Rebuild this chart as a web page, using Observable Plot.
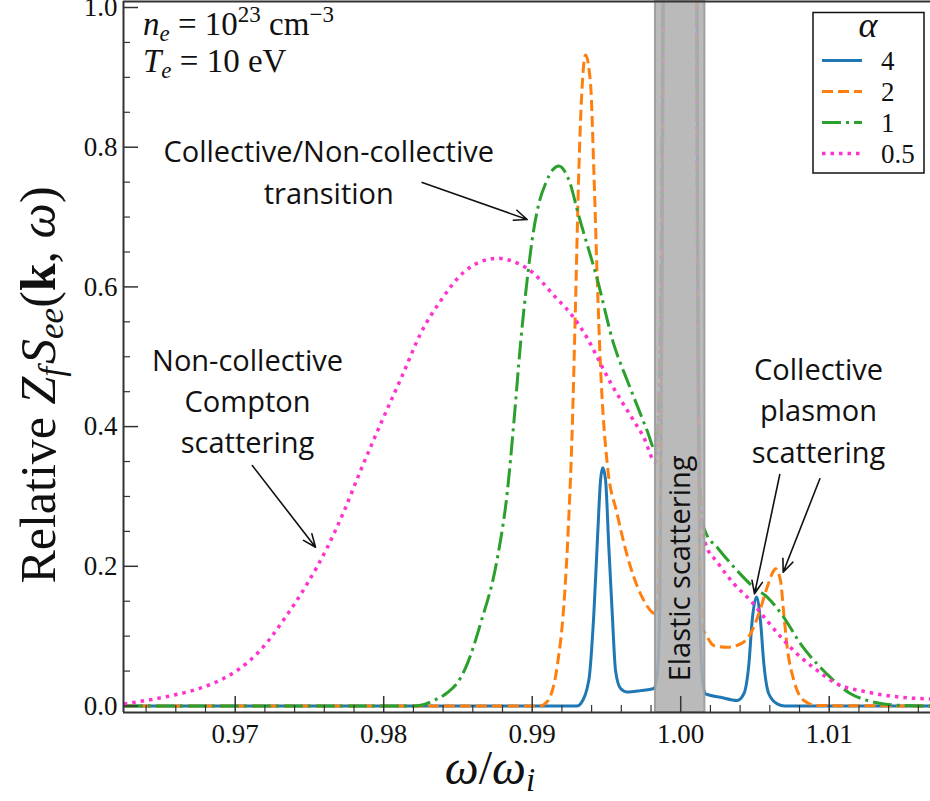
<!DOCTYPE html>
<html>
<head>
<meta charset="utf-8">
<script src="https://cdn.jsdelivr.net/npm/d3@7"></script>
<script src="https://cdn.jsdelivr.net/npm/@observablehq/plot@0.6"></script>
<style>
  html, body { margin: 0; padding: 0; background: #fff; }
  #chart svg { display: block; }
</style>
</head>
<body>
<div id="chart"></div>
<script>
// ---------------- data ----------------
const seriesNames = ["4", "2", "1", "0.5"];
const seriesColors = ["#1f77b4", "#ff7f0e", "#2ca02c", "#ff33cc"];
const seriesDash = [null, "11,5", "19,5,3,5", "3.5,5"];

// alpha = 4 (blue, solid)
const a4X = [0.9625, 0.9930, 0.99325, 0.99381, 0.99415, 0.99442, 0.9946, 0.99475, 0.99494, 0.99516, 0.99539, 0.99561, 0.99595, 0.9964, 0.99729, 0.99819,
  0.9984, 0.9986, 0.99875, 0.9989, 0.9992, 1.0008, 1.00105, 1.00115, 1.0013, 1.0015,
  1.00167, 1.00268, 1.0038, 1.00425, 1.00459, 1.00481, 1.0051, 1.00537, 1.0056, 1.00593, 1.0065, 1.0070, 1.0170];
const a4Y = [0, 0, 0.003, 0.0365, 0.132, 0.251, 0.323, 0.341, 0.323, 0.227, 0.132, 0.051, 0.025, 0.020, 0.022, 0.025,
  0.04, 0.15, 0.6, 1.5, 5, 5, 1.5, 0.6, 0.12, 0.03,
  0.0175, 0.0126, 0.0079, 0.0175, 0.060, 0.122, 0.156, 0.122, 0.060, 0.0175, 0.003, 0, 0];

// alpha = 2 (orange, dashed)
const a2X = [0.9625, 0.9905, 0.99101, 0.99168, 0.99213, 0.99246, 0.99269, 0.99292, 0.99314, 0.99337, 0.99359, 0.99393, 0.99415, 0.99438, 0.9946, 0.99505, 0.99572, 0.99662, 0.99752, 0.9983,
  0.9985, 0.9987, 0.99885, 0.9991, 1.0008, 1.00105, 1.00115, 1.0013, 1.0015,
  1.00167, 1.00223, 1.00313, 1.00403, 1.0047, 1.00526, 1.00582, 1.00627, 1.00638, 1.00672, 1.00694, 1.00717, 1.00762, 1.00829, 1.0092, 1.0170];
const a2Y = [0, 0, 0.0064, 0.0566, 0.144, 0.268, 0.393, 0.579, 0.767, 0.89, 0.932, 0.89, 0.767, 0.611, 0.486, 0.347, 0.275, 0.199, 0.151, 0.132,
  0.18, 0.5, 1.3, 5, 5, 1.3, 0.5, 0.2, 0.11,
  0.1034, 0.0866, 0.0842, 0.089, 0.1034, 0.132, 0.170, 0.194, 0.1964, 0.1797, 0.132, 0.0842, 0.0365, 0.0079, 0.0007, 0];

// alpha = 1 (green, dash-dot)
const a1X = [0.9625, 0.9820, 0.98248, 0.98337, 0.98428, 0.98517, 0.98562, 0.98652, 0.98764, 0.98832, 0.98876, 0.98921, 0.98966, 0.9900, 0.9904, 0.9909, 0.9914, 0.99179, 0.9922, 0.9926, 0.99303, 0.99438, 0.99549, 0.9964, 0.99707, 0.99774, 0.9983,
  0.9985, 0.9987, 0.99885, 0.9991, 1.0008, 1.00105, 1.00115, 1.0013, 1.0015,
  1.00167, 1.00246, 1.00358, 1.00492, 1.00582, 1.00694, 1.00807, 1.00919, 1.01031, 1.01144, 1.01256, 1.01368, 1.0148, 1.0170];
const a1Y = [0, 0, 0.001, 0.008, 0.019, 0.040, 0.060, 0.118, 0.210, 0.306, 0.405, 0.518, 0.610, 0.668, 0.715, 0.748, 0.768, 0.773, 0.765, 0.745, 0.71, 0.611, 0.518, 0.466, 0.430, 0.394, 0.366,
  0.42, 0.7, 1.4, 5, 5, 1.3, 0.6, 0.32, 0.26,
  0.249, 0.227, 0.199, 0.170, 0.156, 0.127, 0.089, 0.060, 0.0365, 0.0175, 0.008, 0.003, 0.001, 0];

// alpha = 0.5 (pink, dotted)
const a05X = [0.9625, 0.96542, 0.9671, 0.96869, 0.97013, 0.9717, 0.97338, 0.97485, 0.9762, 0.97731, 0.97844, 0.9799, 0.98125, 0.98248, 0.98383, 0.98539, 0.9864, 0.98766, 0.9885, 0.9900, 0.99145, 0.9928, 0.9937, 0.9946, 0.9953, 0.9960, 0.9967, 0.9975, 0.9983,
  0.9985, 0.9987, 0.99885, 0.9991, 1.0008, 1.00105, 1.00115, 1.0013, 1.0015,
  1.00167, 1.00246, 1.00358, 1.0047, 1.00582, 1.00694, 1.00807, 1.00919, 1.01031, 1.01256, 1.0148, 1.0170];
const a05Y = [0.003, 0.0136, 0.022, 0.034, 0.051, 0.080, 0.127, 0.175, 0.227, 0.278, 0.337, 0.409, 0.473, 0.533, 0.58, 0.621, 0.635, 0.641, 0.638, 0.621, 0.588, 0.556, 0.527, 0.49, 0.462, 0.437, 0.413, 0.385, 0.349,
  0.4, 0.65, 1.3, 5, 5, 1.2, 0.55, 0.3, 0.245,
  0.232, 0.206, 0.175, 0.151, 0.122, 0.094, 0.070, 0.051, 0.034, 0.020, 0.0126, 0.010];

const seriesX = [a4X, a2X, a1X, a05X];
const seriesY = [a4Y, a2Y, a1Y, a05Y];

// axes
const xDomain = [0.962478, 1.01682];
const yDomain = [-0.0093, 1.0086];
const xMajor = [0.97, 0.98, 0.99, 1.00, 1.01];
const xMinor = [0.964, 0.966, 0.968, 0.972, 0.974, 0.976, 0.978, 0.982, 0.984, 0.986, 0.988, 0.992, 0.994, 0.996, 0.998, 1.002, 1.004, 1.006, 1.008, 1.012, 1.014, 1.016];
const yMajor = [0.0, 0.2, 0.4, 0.6, 0.8, 1.0];
const yMinor = [0.05, 0.1, 0.15, 0.25, 0.3, 0.35, 0.45, 0.5, 0.55, 0.65, 0.7, 0.75, 0.85, 0.9, 0.95];

// elastic band
const elastic = [{x1: 0.9983, x2: 1.00163, xc: 1.0, yc: 0.197, label: "Elastic scattering"}];

// annotations
const notes = [
  {text: "Collective/Non-collective\ntransition", x: 0.97630, y: 0.7194},
  {text: "Non-collective\nCompton\nscattering", x: 0.97083, y: 0.3615},
  {text: "Collective\nplasmon\nscattering", x: 1.00928, y: 0.3486}
];
const arrows = [
  {x1: 0.98259, y1: 0.7496, x2: 0.98966, y2: 0.6965},
  {x1: 0.97115, y1: 0.3443, x2: 0.97541, y2: 0.2273},
  {x1: 1.00667, y1: 0.3314, x2: 1.00497, y2: 0.1606},
  {x1: 1.00937, y1: 0.3253, x2: 1.00690, y2: 0.1916}
];

// ---------------- layout ----------------
const W = 930, H = 801;
const mL = 123, mR = 0, mT = 1, mB = 89;
const plotW = W - mL - mR, plotH = H - mT - mB;
const serif = "'Liberation Serif', 'DejaVu Serif', serif";
const sans = "'Open Sans', 'Noto Sans', sans-serif";
const axisColor = "#333";

const rows = seriesNames.map((name, i) =>
  seriesX[i].map((x, j) => ({x, y: seriesY[i][j], s: name})));

const lineMarks = rows.map((data, i) => Plot.line(data, {
  x: "x", y: "y", stroke: seriesColors[i], strokeWidth: i === 3 ? 3.5 : 3,
  strokeDasharray: seriesDash[i] || undefined, strokeLinecap: "butt",
  curve: "monotone-x", clip: true
}));

const chart = Plot.plot({
  width: W, height: H,
  marginLeft: mL, marginRight: mR, marginTop: mT, marginBottom: mB,
  style: {background: "#fff", overflow: "visible"},
  x: {domain: xDomain, axis: null},
  y: {domain: yDomain, axis: null},
  marks: [
    ...lineMarks,
    Plot.rect(elastic, {x1: "x1", x2: "x2", fill: "#b0b0b0", fillOpacity: 0.88, stroke: "#9a9a9a", strokeWidth: 2, strokeOpacity: 0.9}),
    Plot.text(elastic, {x: "xc", y: "yc", text: "label", rotate: -90, fontSize: 29, fontFamily: sans, fill: "#111"}),
    // ticks
    Plot.ruleX(xMajor, {x: d => d, insetTop: plotH - 16, stroke: axisColor, strokeWidth: 1.5}),
    Plot.ruleX(xMinor, {x: d => d, insetTop: plotH - 7, stroke: axisColor, strokeWidth: 1.2}),
    Plot.ruleY(yMajor, {y: d => d, insetRight: plotW - 15, stroke: axisColor, strokeWidth: 1.5}),
    Plot.ruleY(yMinor, {y: d => d, insetRight: plotW - 7, stroke: axisColor, strokeWidth: 1.2}),
    // spines
    Plot.ruleX([xDomain[0]], {stroke: axisColor, strokeWidth: 2}),
    Plot.ruleY([yDomain[0]], {stroke: axisColor, strokeWidth: 2}),
    Plot.ruleY([yDomain[1]], {stroke: axisColor, strokeWidth: 2}),
    // tick labels
    Plot.text(xMajor, {x: d => d, text: d => d.toFixed(2), frameAnchor: "bottom", dy: 30, lineAnchor: "bottom", fontSize: 27, fontFamily: serif, fill: "#111"}),
    Plot.text(yMajor, {y: d => d, text: d => d.toFixed(1), frameAnchor: "left", dx: -6, textAnchor: "end", fontSize: 27, fontFamily: serif, fill: "#111"}),
    // annotations
    Plot.text(notes, {x: "x", y: "y", text: "text", lineAnchor: "bottom", lineHeight: 1.42, fontSize: 29, fontFamily: sans, fill: "#111"}),
    Plot.arrow(arrows, {x1: "x1", y1: "y1", x2: "x2", y2: "y2", stroke: "#111", strokeWidth: 1.6, headLength: 13, headAngle: 45})
  ]
});

document.getElementById("chart").appendChild(chart);

// ---------------- math labels & legend (SVG text) ----------------
const svg = d3.select(chart);

// y-axis label
const yl = svg.append("text")
  .attr("transform", "translate(55,385) rotate(-90)")
  .attr("text-anchor", "middle")
  .attr("font-family", serif).attr("font-size", 50).attr("fill", "#111");
yl.append("tspan").text("Relative ");
yl.append("tspan").attr("font-style", "italic").text("Z");
yl.append("tspan").attr("font-style", "italic").attr("font-size", 35).attr("dy", 8).text("f");
yl.append("tspan").attr("font-style", "italic").attr("dy", -8).attr("dx", 3).text("S");
yl.append("tspan").attr("font-style", "italic").attr("font-size", 35).attr("dy", 8).text("ee");
yl.append("tspan").attr("dy", -8).text("(");
yl.append("tspan").attr("font-weight", "bold").text("k");
yl.append("tspan").text(", ");
yl.append("tspan").attr("font-style", "italic").text("ω");
yl.append("tspan").text(")");

// x-axis label
const xl = svg.append("text")
  .attr("x", 490).attr("y", 784)
  .attr("text-anchor", "middle")
  .attr("font-family", serif).attr("font-size", 48).attr("fill", "#111");
xl.append("tspan").attr("font-style", "italic").text("ω");
xl.append("tspan").text("/");
xl.append("tspan").attr("font-style", "italic").text("ω");
xl.append("tspan").attr("font-style", "italic").attr("font-size", 33).attr("dy", 7).text("i");

// plasma parameters
const p1 = svg.append("text").attr("x", 143).attr("y", 35).attr("text-anchor", "start")
  .attr("font-family", serif).attr("font-size", 33).attr("fill", "#111");
p1.append("tspan").attr("font-style", "italic").text("n");
p1.append("tspan").attr("font-style", "italic").attr("font-size", 23).attr("dy", 6).text("e");
p1.append("tspan").attr("dy", -6).text(" = 10");
p1.append("tspan").attr("font-size", 23).attr("dy", -13).text("23");
p1.append("tspan").attr("dy", 13).text(" cm");
p1.append("tspan").attr("font-size", 23).attr("dy", -13).text("−3");

const p2 = svg.append("text").attr("x", 143).attr("y", 72).attr("text-anchor", "start")
  .attr("font-family", serif).attr("font-size", 33).attr("fill", "#111");
p2.append("tspan").attr("font-style", "italic").text("T");
p2.append("tspan").attr("font-style", "italic").attr("font-size", 23).attr("dy", 6).text("e");
p2.append("tspan").attr("dy", -6).text(" = 10 eV");

// legend
const lg = svg.append("g");
lg.append("rect").attr("x", 813).attr("y", 12.5).attr("width", 111).attr("height", 160.5)
  .attr("fill", "#fff").attr("stroke", "#111").attr("stroke-width", 1.5);
lg.append("text").attr("x", 868).attr("y", 37).attr("text-anchor", "middle")
  .attr("font-family", serif).attr("font-style", "italic").attr("font-size", 36).attr("fill", "#111").text("α");
seriesNames.forEach((name, i) => {
  const cy = 60.5 + i * 31;
  lg.append("line").attr("x1", 822).attr("x2", 862).attr("y1", cy).attr("y2", cy)
    .attr("stroke", seriesColors[i]).attr("stroke-width", i === 3 ? 3.5 : 3)
    .attr("stroke-dasharray", seriesDash[i]);
  lg.append("text").attr("x", 881).attr("y", cy + 9).attr("text-anchor", "start")
    .attr("font-family", serif).attr("font-size", 27).attr("fill", "#111").text(name);
});
</script>
</body>
</html>
